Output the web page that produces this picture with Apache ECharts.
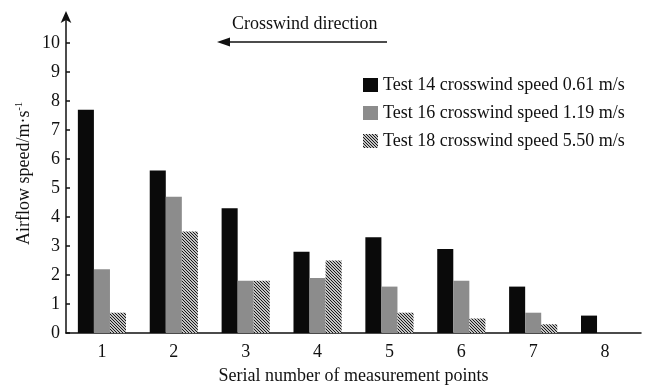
<!DOCTYPE html>
<html><head><meta charset="utf-8">
<script src="https://cdn.jsdelivr.net/npm/echarts@6/dist/echarts.min.js"></script>
<style>html,body{margin:0;padding:0;background:#fff}#c{width:655px;height:388px}</style>
</head><body><div id="c"></div>
<script>
const categories = ['1','2','3','4','5','6','7','8'];
const test14 = [7.7, 5.6, 4.3, 2.8, 3.3, 2.9, 1.6, 0.6];
const test16 = [2.2, 4.7, 1.8, 1.9, 1.6, 1.8, 0.7, null];
const test18 = [0.7, 3.5, 1.8, 2.5, 0.7, 0.5, 0.3, null];
const seriesNames = ['Test 14 crosswind speed 0.61 m/s','Test 16 crosswind speed 1.19 m/s','Test 18 crosswind speed 5.50 m/s'];
const yTicks = [0,1,2,3,4,5,6,7,8,9,10];

function hatch(){
  const c = document.createElement('canvas');
  c.width = 3; c.height = 3;
  const g = c.getContext('2d');
  const img = g.createImageData(3,3);
  for (let y=0;y<3;y++) for (let x=0;x<3;x++){
    const i=(y*3+x)*4;
    const dark = ((x - y + 3) % 3) === 0;
    const v = dark ? 25 : 195;
    img.data[i]=v; img.data[i+1]=v; img.data[i+2]=v; img.data[i+3]=255;
  }
  g.putImageData(img,0,0);
  return {image:c, repeat:'repeat'};
}
const font = '"Liberation Serif","Times New Roman",serif';
const FS = 18;
const chart = echarts.init(document.getElementById('c'), null, {renderer:'canvas'});
chart.setOption({
  animation:false,
  textStyle:{fontFamily:font},
  grid:{left:66,right:14,top:14,bottom:55,containLabel:false,outerBoundsMode:'none'},
  legend:{
    orient:'vertical', left:358, top:71, itemWidth:15, itemHeight:14, itemGap:10, icon:'rect',
    textStyle:{fontFamily:font,fontSize:FS,color:'#111'},
    data:seriesNames
  },
  xAxis:{
    type:'category', data:categories, boundaryGap:true,
    axisLine:{lineStyle:{color:'#111',width:1.5}},
    axisTick:{inside:true,length:5,lineStyle:{color:'#111',width:1.5}},
    axisLabel:{color:'#111',fontSize:FS,fontFamily:font,margin:10},
    name:'Serial number of measurement points', nameLocation:'middle', nameGap:34,
    nameTextStyle:{color:'#111',fontSize:FS,fontFamily:font}
  },
  yAxis:{
    type:'value', min:0, max:11, interval:1,
    splitLine:{show:false},
    axisLine:{show:true,symbol:['none','arrow'],symbolSize:[8,12],symbolOffset:[0,3],lineStyle:{color:'#111',width:1.5}},
    axisTick:{show:true,inside:true,length:4,customValues:yTicks,lineStyle:{color:'#111',width:1.5}},
    axisLabel:{color:'#111',fontSize:FS,fontFamily:font,margin:6,customValues:yTicks},
    name:'{a|Airflow speed/m·s}{b|-1}', nameLocation:'middle', nameGap:32, nameRotate:90, nameMoveOverlap:false,
    nameTextStyle:{color:'#111',fontSize:FS,fontFamily:font,
      rich:{a:{fontSize:FS,fontFamily:font,color:'#111',lineHeight:20},
            b:{fontSize:10,fontFamily:font,color:'#111',verticalAlign:'top',lineHeight:20}}}
  },
  series:[
    {name:seriesNames[0],type:'bar',data:test14,barGap:'0%',barCategoryGap:'33%',itemStyle:{color:'#0a0a0a'}},
    {name:seriesNames[1],type:'bar',data:test16,barGap:'0%',barCategoryGap:'33%',itemStyle:{color:'#8c8c8c'}},
    {name:seriesNames[2],type:'bar',data:test18,barGap:'0%',barCategoryGap:'33%',itemStyle:{color:hatch()}}
  ],
  graphic:[
    {type:'text',left:232,top:15,style:{text:'Crosswind direction',font:FS+'px '+font,fill:'#111'}},
    {type:'line',shape:{x1:226,y1:42,x2:387,y2:42},style:{stroke:'#111',lineWidth:1.5}},
    {type:'polygon',shape:{points:[[217,42],[230,37.5],[230,46.5]]},style:{fill:'#111'}}
  ]
});
</script></body></html>
